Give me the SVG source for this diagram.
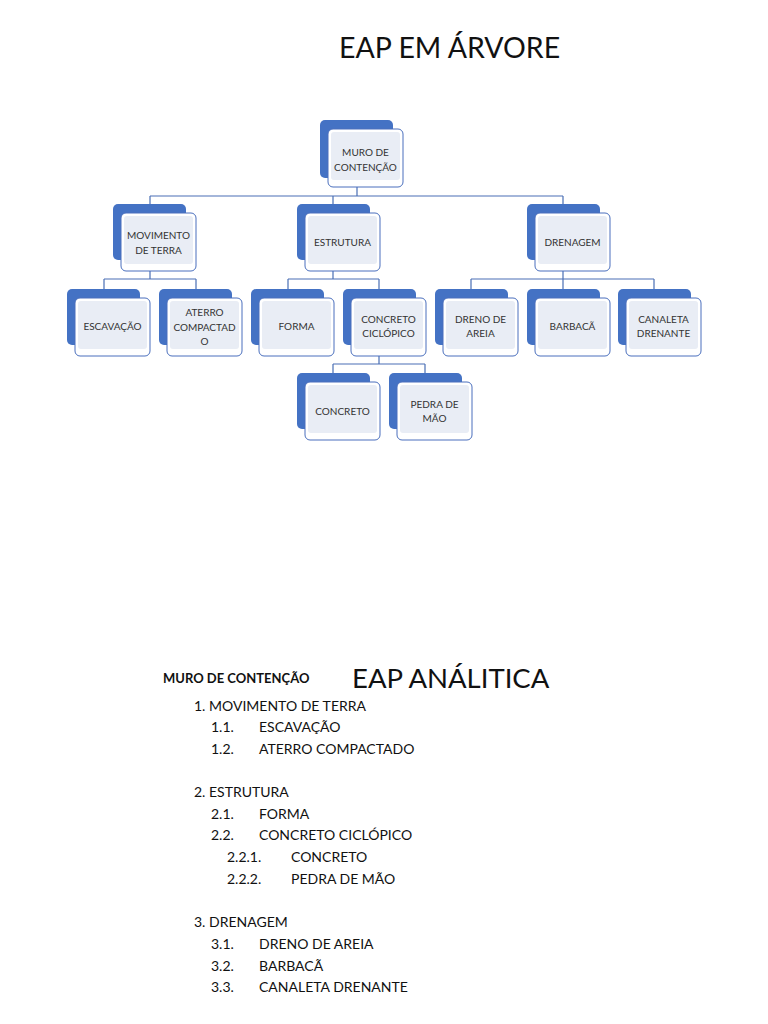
<svg xmlns="http://www.w3.org/2000/svg" width="768" height="1024" viewBox="0 0 768 1024">
<style>
.bg{fill:#ffffff}
.dark{fill:#4472c4}
.light{fill:#ffffff;stroke:#4a6fbd;stroke-width:1}
.inner{fill:#e9edf5}
.nt{font-family:Lato,"Open Sans",sans-serif;font-size:10px;fill:#333333;text-anchor:middle;dominant-baseline:central}
.conn{fill:none;stroke:#4a6fb5;stroke-width:1.2}
.title{font-family:Lato,"Open Sans",sans-serif;font-size:27.5px;fill:#111111}
.li{font-family:Lato,"Open Sans",sans-serif;font-size:14px;fill:#111111}
.hd{font-family:Lato,"Open Sans",sans-serif;font-size:13px;font-weight:bold;fill:#111111}
</style>
<rect class="bg" x="0" y="0" width="768" height="1024"/>
<text class="title" x="339" y="58" style="font-size:28.5px">EAP EM ÁRVORE</text>

<g id="connectors">
<path class="conn" d="M357,187 V196 M150,196 H563 M150,196 V204 M333,196 V204 M563,196 V204"/>
<path class="conn" d="M150,271 V279 M104,279 H196 M104,279 V289 M196,279 V289"/>
<path class="conn" d="M333,271 V279 M288,279 H379 M288,279 V289 M379,279 V289"/>
<path class="conn" d="M563,271 V279 M471,279 H654 M471,279 V289 M563,279 V289 M654,279 V289"/>
<path class="conn" d="M379,356 V364 M333,364 H425 M333,364 V373 M425,364 V373"/>
</g>

<g id="n-muro">
<rect class="dark" x="320" y="120" width="73" height="58" rx="5"/>
<rect class="light" x="328" y="129" width="75" height="58" rx="5"/>
<rect class="inner" x="331" y="132" width="69" height="48" rx="3"/>
<text class="nt" x="365.5" y="152">MURO DE</text>
<text class="nt" x="365.5" y="167">CONTENÇÃO</text>
</g>

<g id="n-movimento">
<rect class="dark" x="113" y="204" width="73" height="56" rx="5"/>
<rect class="light" x="121" y="213" width="75" height="58" rx="5"/>
<rect class="inner" x="124" y="216" width="69" height="48" rx="3"/>
<text class="nt" x="158.5" y="235">MOVIMENTO</text>
<text class="nt" x="158.5" y="250">DE TERRA</text>
</g>

<g id="n-estrutura">
<rect class="dark" x="297" y="204" width="73" height="56" rx="5"/>
<rect class="light" x="305" y="213" width="75" height="58" rx="5"/>
<rect class="inner" x="308" y="216" width="69" height="48" rx="3"/>
<text class="nt" x="342.5" y="242">ESTRUTURA</text>
</g>

<g id="n-drenagem">
<rect class="dark" x="527" y="204" width="73" height="56" rx="5"/>
<rect class="light" x="535" y="213" width="75" height="58" rx="5"/>
<rect class="inner" x="538" y="216" width="69" height="48" rx="3"/>
<text class="nt" x="572.5" y="242">DRENAGEM</text>
</g>

<g id="n-escavacao">
<rect class="dark" x="67" y="289" width="73" height="56" rx="5"/>
<rect class="light" x="75" y="298" width="75" height="58" rx="5"/>
<rect class="inner" x="78" y="301" width="69" height="48" rx="3"/>
<text class="nt" x="112.5" y="326">ESCAVAÇÃO</text>
</g>

<g id="n-aterro">
<rect class="dark" x="159" y="289" width="73" height="56" rx="5"/>
<rect class="light" x="167" y="298" width="75" height="58" rx="5"/>
<rect class="inner" x="170" y="301" width="69" height="48" rx="3"/>
<text class="nt" x="204.5" y="312">ATERRO</text>
<text class="nt" x="204.5" y="326.5">COMPACTAD</text>
<text class="nt" x="204.5" y="341">O</text>
</g>

<g id="n-forma">
<rect class="dark" x="251" y="289" width="73" height="56" rx="5"/>
<rect class="light" x="259" y="298" width="75" height="58" rx="5"/>
<rect class="inner" x="262" y="301" width="69" height="48" rx="3"/>
<text class="nt" x="296.5" y="326">FORMA</text>
</g>

<g id="n-ciclopico">
<rect class="dark" x="343" y="289" width="73" height="56" rx="5"/>
<rect class="light" x="351" y="298" width="75" height="58" rx="5"/>
<rect class="inner" x="354" y="301" width="69" height="48" rx="3"/>
<text class="nt" x="388.5" y="319">CONCRETO</text>
<text class="nt" x="388.5" y="333">CICLÓPICO</text>
</g>

<g id="n-dreno">
<rect class="dark" x="435" y="289" width="73" height="56" rx="5"/>
<rect class="light" x="443" y="298" width="75" height="58" rx="5"/>
<rect class="inner" x="446" y="301" width="69" height="48" rx="3"/>
<text class="nt" x="480.5" y="319">DRENO DE</text>
<text class="nt" x="480.5" y="333">AREIA</text>
</g>

<g id="n-barbaca">
<rect class="dark" x="527" y="289" width="73" height="56" rx="5"/>
<rect class="light" x="535" y="298" width="75" height="58" rx="5"/>
<rect class="inner" x="538" y="301" width="69" height="48" rx="3"/>
<text class="nt" x="572.5" y="326">BARBACÃ</text>
</g>

<g id="n-canaleta">
<rect class="dark" x="618" y="289" width="73" height="56" rx="5"/>
<rect class="light" x="626" y="298" width="75" height="58" rx="5"/>
<rect class="inner" x="629" y="301" width="69" height="48" rx="3"/>
<text class="nt" x="663.5" y="319">CANALETA</text>
<text class="nt" x="663.5" y="333">DRENANTE</text>
</g>

<g id="n-concreto">
<rect class="dark" x="297" y="373" width="73" height="56" rx="5"/>
<rect class="light" x="305" y="382" width="75" height="58" rx="5"/>
<rect class="inner" x="308" y="385" width="69" height="48" rx="3"/>
<text class="nt" x="342.5" y="411">CONCRETO</text>
</g>

<g id="n-pedra">
<rect class="dark" x="389" y="373" width="73" height="56" rx="5"/>
<rect class="light" x="397" y="382" width="75" height="58" rx="5"/>
<rect class="inner" x="400" y="385" width="69" height="48" rx="3"/>
<text class="nt" x="434.5" y="404">PEDRA DE</text>
<text class="nt" x="434.5" y="418">MÃO</text>
</g>

<text class="hd" x="163" y="683">MURO DE CONTENÇÃO</text>
<text class="title" x="352" y="688">EAP ANÁLITICA</text>

<text class="li" x="194" y="711">1. MOVIMENTO DE TERRA</text>
<text class="li" x="211" y="732">1.1.</text><text class="li" x="259" y="732">ESCAVAÇÃO</text>
<text class="li" x="211" y="754">1.2.</text><text class="li" x="259" y="754">ATERRO COMPACTADO</text>

<text class="li" x="194" y="797">2. ESTRUTURA</text>
<text class="li" x="211" y="819">2.1.</text><text class="li" x="259" y="819">FORMA</text>
<text class="li" x="211" y="840">2.2.</text><text class="li" x="259" y="840">CONCRETO CICLÓPICO</text>
<text class="li" x="227" y="862">2.2.1.</text><text class="li" x="291" y="862">CONCRETO</text>
<text class="li" x="227" y="884">2.2.2.</text><text class="li" x="291" y="884">PEDRA DE MÃO</text>

<text class="li" x="194" y="927">3. DRENAGEM</text>
<text class="li" x="211" y="949">3.1.</text><text class="li" x="259" y="949">DRENO DE AREIA</text>
<text class="li" x="211" y="971">3.2.</text><text class="li" x="259" y="971">BARBACÃ</text>
<text class="li" x="211" y="992">3.3.</text><text class="li" x="259" y="992">CANALETA DRENANTE</text>
</svg>
